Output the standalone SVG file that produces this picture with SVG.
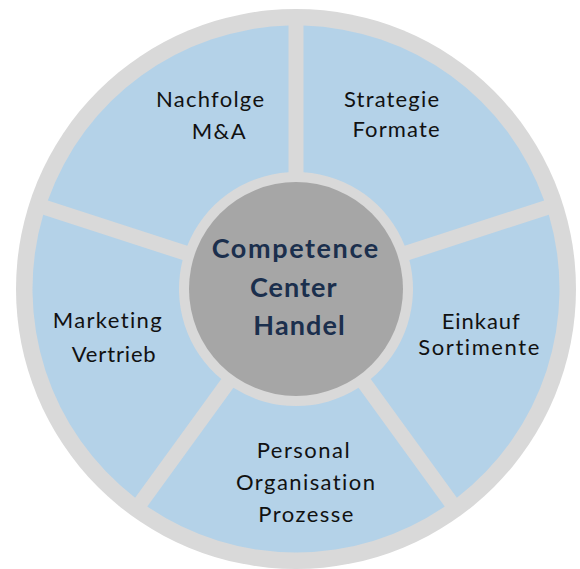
<svg xmlns="http://www.w3.org/2000/svg" width="580" height="569" viewBox="0 0 580 569">
<style>
.sector{fill:#B4D2E8;}
.lbl{font-family:Lato,"Open Sans","Liberation Sans",sans-serif;font-size:22px;fill:#111111;font-variant-ligatures:none;}
.core{font-family:Lato,"Open Sans","Liberation Sans",sans-serif;font-size:27px;font-weight:bold;fill:#1B2F4D;font-variant-ligatures:none;}
</style>
<rect width="580" height="569" fill="#FFFFFF"/>
<g id="ring">
<circle cx="296" cy="289" r="280" fill="#D9D9D9"/>
</g>
<g id="connectors"></g>
<g id="strategie">
<path class="sector" d="M303.5 172.24 L303.5 25.61 A263.5 263.5 0 0 1 544.18 200.48 L404.73 245.79 A117 117 0 0 0 303.5 172.24 Z"/>
<text class="lbl" x="344" y="106.7" textLength="95" lengthAdjust="spacing">Strategie</text>
<text class="lbl" x="352.5" y="136.7" textLength="87" lengthAdjust="spacing">Formate</text>
</g>
<g id="einkauf">
<path class="sector" d="M409.37 260.05 L548.82 214.74 A263.5 263.5 0 0 1 456.89 497.68 L370.7 379.05 A117 117 0 0 0 409.37 260.05 Z"/>
<text class="lbl" x="441.7" y="329" textLength="78" lengthAdjust="spacing">Einkauf</text>
<text class="lbl" x="418.3" y="354.5" textLength="121" lengthAdjust="spacing">Sortimente</text>
</g>
<g id="personal">
<path class="sector" d="M358.56 387.87 L444.75 506.5 A263.5 263.5 0 0 1 147.25 506.5 L233.44 387.87 A117 117 0 0 0 358.56 387.87 Z"/>
<text class="lbl" x="256.7" y="458.3" textLength="93" lengthAdjust="spacing">Personal</text>
<text class="lbl" x="236" y="490" textLength="139" lengthAdjust="spacing">Organisation</text>
<text class="lbl" x="258.3" y="521.7" textLength="95" lengthAdjust="spacing">Prozesse</text>
</g>
<g id="marketing">
<path class="sector" d="M221.3 379.05 L135.11 497.68 A263.5 263.5 0 0 1 43.18 214.74 L182.63 260.05 A117 117 0 0 0 221.3 379.05 Z"/>
<text class="lbl" x="52.7" y="328.3" textLength="109" lengthAdjust="spacing">Marketing</text>
<text class="lbl" x="71.7" y="361.7" textLength="84" lengthAdjust="spacing">Vertrieb</text>
</g>
<g id="nachfolge">
<path class="sector" d="M187.27 245.79 L47.82 200.48 A263.5 263.5 0 0 1 288.5 25.61 L288.5 172.24 A117 117 0 0 0 187.27 245.79 Z"/>
<text class="lbl" x="156" y="107.3" textLength="108" lengthAdjust="spacing">Nachfolge</text>
<text class="lbl" x="191.7" y="139.3" textLength="54" lengthAdjust="spacing">M&amp;A</text>
</g>
<g id="center">
<circle cx="296" cy="289" r="107" fill="#A6A6A6"/>
<text class="core" x="211.7" y="258.3" textLength="166.5" lengthAdjust="spacing">Competence</text>
<text class="core" x="250" y="296.7" textLength="86.5" lengthAdjust="spacing">Center</text>
<text class="core" x="253.3" y="335" textLength="91.5" lengthAdjust="spacing">Handel</text>
</g>
</svg>
